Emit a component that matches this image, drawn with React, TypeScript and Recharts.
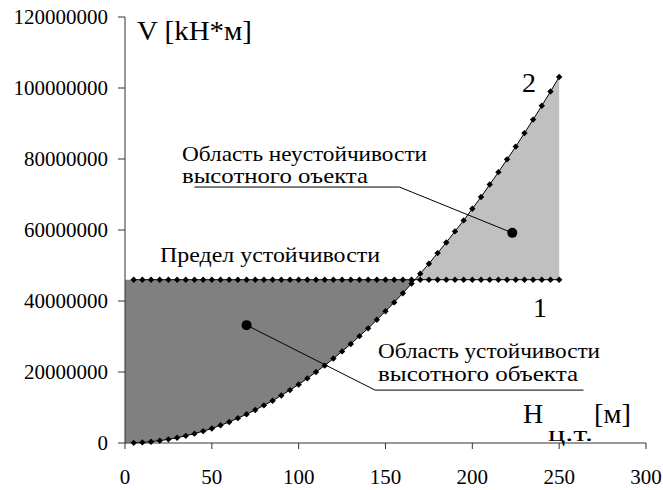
import { ComposedChart, Area, Line, XAxis, YAxis, ReferenceLine, ReferenceDot } from "recharts";

// высота центра тяжести, м
const heights = [
  5, 10, 15, 20, 25, 30, 35, 40, 45, 50, 55, 60, 65, 70, 75, 80, 85, 90, 95, 100,
  105, 110, 115, 120, 125, 130, 135, 140, 145, 150, 155, 160, 165, 170, 175, 180, 185, 190, 195, 200,
  205, 210, 215, 220, 225, 230, 235, 240, 245, 250,
];
// кривая 2, кН*м
const curve2 = [
  40000, 170000, 370000, 660000, 1030000, 1490000, 2020000, 2640000, 3340000, 4100000,
  5000000, 5900000, 7000000, 8100000, 9300000, 10600000, 11900000, 13400000, 14900000, 16500000,
  18200000, 20000000, 21800000, 23800000, 25800000, 27900000, 30100000, 32300000, 34700000, 37100000,
  39600000, 42200000, 44900000, 47700000, 50500000, 53500000, 56500000, 59600000, 62700000, 66000000,
  69300000, 72800000, 76300000, 79900000, 83500000, 87300000, 91100000, 95000000, 99000000, 103100000,
];
// предел устойчивости (линия 1)
const limit = 46000000;
const crossH = 167;

const xTicks = [0, 50, 100, 150, 200, 250, 300];
const yTicks = [0, 20000000, 40000000, 60000000, 80000000, 100000000, 120000000];

// выноски
const upperLeader = [
  { x: 40, y: 72100000 },
  { x: 158, y: 72100000 },
  { x: 223, y: 59200000 },
];
const lowerLeader = [
  { x: 70, y: 33200000 },
  { x: 144, y: 14900000 },
  { x: 264, y: 14900000 },
];

type Row = { h: number; v2?: number; v1?: number; dark?: number[]; light?: number[] };
const rows: Row[] = [{ h: 0, dark: [0, limit] }];
heights.forEach((h, i) => {
  const v = curve2[i];
  if (h > crossH && rows[rows.length - 1].h < crossH) {
    rows.push({ h: crossH, dark: [limit, limit], light: [limit, limit] });
  }
  const r: Row = { h, v2: v, v1: limit };
  if (h < crossH) r.dark = [v, limit];
  else r.light = [limit, v];
  rows.push(r);
});

const serif = "Liberation Serif, DejaVu Serif, serif";

const Diamond = (props: any) => {
  const { cx, cy, key } = props;
  if (cx == null || cy == null || props.value == null) return <g key={key} />;
  const s = 3.2;
  return (
    <polygon
      key={key}
      points={`${cx},${cy - s} ${cx + s},${cy} ${cx},${cy + s} ${cx - s},${cy}`}
      fill="#000"
    />
  );
};

const YTick = (props: any) => {
  const { x, y, payload } = props;
  return (
    <text x={x} y={y} dy={7} textAnchor="end" style={{ fontFamily: serif }} fontSize={21} fill="#000">
      {String(payload.value)}
    </text>
  );
};

const XTick = (props: any) => {
  const { x, y, payload } = props;
  return (
    <text x={x} y={y} dy={15} textAnchor="middle" style={{ fontFamily: serif }} fontSize={21} fill="#000">
      {String(payload.value)}
    </text>
  );
};

const T = ({ x, y, len, size, children }: any) => (
  <text x={x} y={y} style={{ fontFamily: serif }} fontSize={size} fill="#000" textLength={len} lengthAdjust="spacingAndGlyphs">
    {children}
  </text>
);

export default function App() {
  return (
    <div style={{ position: "absolute", left: 0, top: 0, width: 663, height: 490, background: "#fff" }}>
      <ComposedChart width={663} height={490} data={rows} margin={{ top: 17, right: 17, bottom: 0, left: 0 }}>
        <XAxis
          dataKey="h"
          type="number"
          domain={[0, 300]}
          ticks={xTicks}
          height={47}
          tickSize={6}
          tickMargin={20}
          stroke="#333"
          tick={<XTick />}
        />
        <YAxis
          type="number"
          domain={[0, 120000000]}
          ticks={yTicks}
          width={125}
          tickSize={7}
          tickMargin={10}
          stroke="#333"
          tick={<YTick />}
        />
        <Area dataKey="dark" type="linear" fill="#808080" fillOpacity={1} stroke="none" isAnimationActive={false} />
        <Area dataKey="light" type="linear" fill="#c0c0c0" fillOpacity={1} stroke="none" isAnimationActive={false} />
        <Line dataKey="v1" type="linear" stroke="#000" strokeWidth={1} dot={<Diamond />} activeDot={false} connectNulls isAnimationActive={false} />
        <Line dataKey="v2" type="linear" stroke="#000" strokeWidth={1} dot={<Diamond />} activeDot={false} connectNulls isAnimationActive={false} />
        <ReferenceLine segment={[upperLeader[0], upperLeader[1]]} stroke="#000" strokeWidth={1} />
        <ReferenceLine segment={[upperLeader[1], upperLeader[2]]} stroke="#000" strokeWidth={1} />
        <ReferenceLine segment={[lowerLeader[0], lowerLeader[1]]} stroke="#000" strokeWidth={1} />
        <ReferenceLine segment={[lowerLeader[1], lowerLeader[2]]} stroke="#000" strokeWidth={1} />
        <ReferenceDot x={upperLeader[2].x} y={upperLeader[2].y} r={5} fill="#000" stroke="none" />
        <ReferenceDot x={lowerLeader[0].x} y={lowerLeader[0].y} r={5} fill="#000" stroke="none" />
      </ComposedChart>
      <svg width={663} height={490} style={{ position: "absolute", left: 0, top: 0, pointerEvents: "none" }}>
        <T x={137} y={40} len={115} size={27}>V [kH*м]</T>
        <T x={522} y={92} size={28}>2</T>
        <T x={533} y={317} size={28}>1</T>
        <T x={182} y={161} len={245} size={21}>Область неустойчивости</T>
        <T x={182} y={183} len={186} size={21}>высотного оъекта</T>
        <T x={160} y={262} len={220} size={22}>Предел устойчивости</T>
        <T x={378} y={358} len={222} size={21}>Область устойчивости</T>
        <T x={378} y={381} len={200} size={21}>высотного объекта</T>
        <T x={523} y={423} size={28}>H</T>
        <T x={548} y={441} len={45} size={20}>ц.т.</T>
        <T x={594} y={423} len={37} size={27}>[м]</T>
      </svg>
    </div>
  );
}
